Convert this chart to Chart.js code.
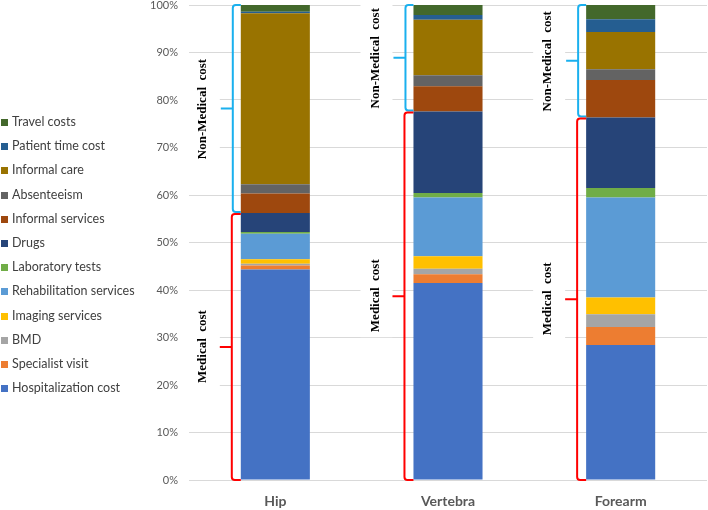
<!DOCTYPE html>
<html>
<head>
<meta charset="utf-8">
<script src="https://cdn.jsdelivr.net/npm/chart.js@4.4.1/dist/chart.umd.min.js"></script>
<style>
  body { margin: 0; background: #fff; }
  #wrap { position: relative; width: 708px; height: 510px; }
  #legend { position: absolute; left: 1px; top: 110px; font-family: Lato, "Open Sans", sans-serif; font-size: 12.5px; color: #404040; }
  #legend div { height: 24.2px; line-height: 24.2px; white-space: nowrap; }
  #legend span { display: inline-block; width: 7px; height: 7px; margin-right: 4px; vertical-align: 0px; }
</style>
</head>
<body>
<div id="wrap">
  <canvas id="myChart"></canvas>
  <div id="legend"></div>
</div>
<script>
// sites (categories)
let sites = ["Hip", "Vertebra", "Forearm"];

// cost items, bottom of the stack first
let items = ["Hospitalization cost", "Specialist visit", "BMD", "Imaging services",
    "Rehabilitation services", "Laboratory tests", "Drugs", "Informal services",
    "Absenteeism", "Informal care", "Patient time cost", "Travel costs"];
let colors = ["#4472C4", "#ED7D31", "#A5A5A5", "#FFC000", "#5B9BD5", "#70AD47",
    "#264478", "#9E480E", "#636363", "#997300", "#255E91", "#43682B"];

// share of total cost (%), same order as items
let hip      = [44.3, 0.85, 0.4, 0.9, 5.4, 0.35, 4.0, 4.1, 1.95, 36.0, 0.35, 1.4];
let vertebra = [41.5, 1.8, 1.2, 2.6, 12.4, 0.9, 17.2, 5.3, 2.3, 11.7, 1.0, 2.1];
let forearm  = [28.4, 3.8, 2.7, 3.5, 21.1, 2.0, 14.8, 7.9, 2.3, 7.8, 2.7, 3.0];

// first 7 items are medical cost
let medicalCount = 7;
let yTicks = [0, 10, 20, 30, 40, 50, 60, 70, 80, 90, 100];

let datasets = items.map((name, i) => ({
    label: name,
    data: [hip[i], vertebra[i], forearm[i]],
    backgroundColor: colors[i],
    borderWidth: 0,
    categoryPercentage: 0.8,
    barPercentage: 0.5
}));

// legend, top entry = last item
let legend = document.getElementById('legend');
for (let i = items.length - 1; i >= 0; i--) {
    let row = document.createElement('div');
    row.innerHTML = '<span style="background:' + colors[i] + '"></span>' + items[i];
    legend.appendChild(row);
}

let bracketPlugin = {
    id: 'brackets',
    afterDatasetsDraw(chart) {
        let ctx = chart.ctx;
        let y = chart.scales.y;
        let meta = chart.getDatasetMeta(0);
        let all = [hip, vertebra, forearm];
        meta.data.forEach((bar, i) => {
            let vals = all[i];
            let med = 0;
            for (let k = 0; k < medicalCount; k++) med += vals[k];
            let left = bar.x - bar.width / 2;
            let bx = left - 8;
            let yTop = y.getPixelForValue(100);
            let yMed = y.getPixelForValue(med);
            let yZero = y.getPixelForValue(0);
            let tx = bx - 30;

            // white boxes behind labels
            ctx.save();
            ctx.font = 'bold 13px "Liberation Serif", "Times New Roman", serif';
            let t1 = 'Non-Medical  cost', t2 = 'Medical  cost';
            let w1 = ctx.measureText(t1).width, w2 = ctx.measureText(t2).width;
            let c1 = (yTop + yMed) / 2, c2 = (yMed + yZero) / 2;
            ctx.fillStyle = '#fff';
            ctx.fillRect(tx - 15, c1 - w1 / 2 - 5, 32, w1 + 10);
            ctx.fillRect(tx - 15, c2 - w2 / 2 - 5, 32, w2 + 10);

            drawBracket(ctx, left, bx, yTop, yMed - 1, '#1AB0EE');
            drawBracket(ctx, left, bx - 1, yMed + 1, yZero, '#FF0000');

            ctx.fillStyle = '#000';
            ctx.textAlign = 'center';
            ctx.textBaseline = 'middle';
            [[t1, c1], [t2, c2]].forEach(([t, c]) => {
                ctx.save();
                ctx.translate(tx, c);
                ctx.rotate(-Math.PI / 2);
                ctx.fillText(t, 0, 0);
                ctx.restore();
            });
            ctx.restore();
        });
    }
};

function drawBracket(ctx, left, bx, top, bottom, color) {
    let r = 3;
    ctx.save();
    ctx.strokeStyle = color;
    ctx.lineWidth = 2;
    ctx.beginPath();
    ctx.moveTo(left, top);
    ctx.arcTo(bx, top, bx, bottom, r);
    ctx.arcTo(bx, bottom, left, bottom, r);
    ctx.lineTo(left, bottom);
    let mid = (top + bottom) / 2;
    ctx.moveTo(bx, mid);
    ctx.lineTo(bx - 12, mid);
    ctx.stroke();
    ctx.restore();
}

let ctx = document.getElementById('myChart').getContext('2d');
let chart = new Chart(ctx, {
    type: 'bar',
    data: { labels: sites, datasets: datasets },
    plugins: [bracketPlugin],
    options: {
        responsive: true,
        maintainAspectRatio: false,
        animation: false,
        layout: { padding: { left: 140, top: 5, right: 1, bottom: 0 } },
        plugins: { legend: { display: false }, tooltip: { enabled: false } },
        scales: {
            x: {
                stacked: true,
                afterFit: s => { s.height = 30; s.paddingLeft = 0; s.paddingRight = 0; },
                grid: { display: false },
                border: { display: false },
                ticks: { color: '#595959', padding: 5, font: { family: 'Lato', size: 14, weight: 'bold' } }
            },
            y: {
                stacked: true,
                min: 0,
                max: 100,
                afterFit: s => { s.width = 49; s.paddingTop = 0; s.paddingBottom = 0; },
                afterBuildTicks: s => { s.ticks = yTicks.map(v => ({ value: v })); },
                grid: { color: '#D9D9D9', drawTicks: false },
                border: { display: false },
                ticks: { color: '#595959', padding: 11, font: { family: 'Lato', size: 11 }, callback: v => v + '%' }
            }
        }
    }
});
</script>
</body>
</html>
